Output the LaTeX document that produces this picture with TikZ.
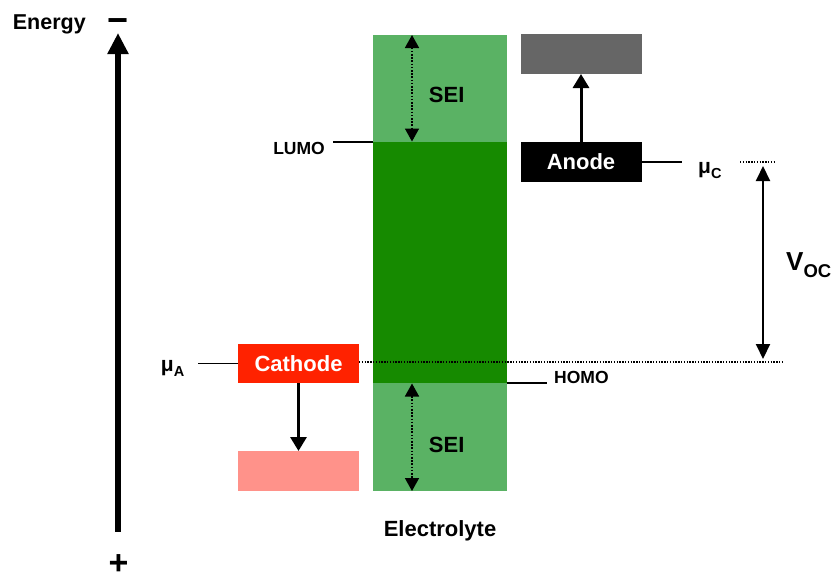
\documentclass[tikz,border=0pt]{standalone}
\usepackage{fontspec}
\setmainfont{Liberation Sans}
\usetikzlibrary{arrows.meta, positioning}
\definecolor{seigreen}{HTML}{5AB264}
\definecolor{elgreen}{HTML}{168A00}
\definecolor{cathred}{HTML}{FF2200}
\definecolor{cathpink}{HTML}{FF928A}
\definecolor{anodegray}{HTML}{666666}

\tikzset{
  band/.style={inner sep=0pt, outer sep=0pt, minimum width=134pt},
  elbox/.style={inner sep=0pt, outer sep=0pt, minimum width=121pt, minimum height=40pt,
    text=white, font=\fontsize{22}{22}\selectfont\bfseries},
  lbl/.style={inner sep=0pt, font=\fontsize{22}{22}\selectfont\bfseries},
  smalllbl/.style={inner sep=0pt, font=\fontsize{17.5}{17.5}\selectfont\bfseries},
  shiftarrow/.style={-{Triangle[width=16pt, length=14pt]}, line width=3pt},
  seiarrow/.style={{Triangle[width=14pt, length=13pt]}-{Triangle[width=14pt, length=13pt]},
    line width=1.6pt, dash pattern=on 1.6pt off 1.6pt},
  lvlline/.style={line width=1.3pt},
  lvldot/.style={line width=1.4pt, dash pattern=on 1.4pt off 1.4pt}
}

\begin{document}
\begin{tikzpicture}[x=1pt, y=-1pt]
\useasboundingbox (0,0) rectangle (835,576);

% electrolyte window
\node[band, fill=seigreen, minimum height=107pt] (seitop) at (440,88.5) {};
\node[band, fill=elgreen, minimum height=241pt] (elec) at (440,262.5) {};
\node[band, fill=seigreen, minimum height=108pt] (seibot) at (440,437) {};
\node[lbl, anchor=base] (seitoplbl) at (446.7,102.7) {SEI};
\node[lbl, anchor=base] (seibotlbl) at (446.7,452.3) {SEI};
\node[lbl, anchor=base] (electrolyte) at (440,536) {Electrolyte};

\coordinate (seitopA) at (412,35);
\coordinate (seitopB) at (412,141.5);
\coordinate (seibotA) at (412,383.5);
\coordinate (seibotB) at (412,491);
\draw[seiarrow] (seitopA) -- (seitopB);
\draw[seiarrow] (seibotA) -- (seibotB);

% LUMO / HOMO
\node[smalllbl, anchor=base east] (lumo) at (325,154.3) {LUMO};
\coordinate (lumoend) at (333,142);
\draw[lvlline] (lumoend) -- (elec.north west);
\node[smalllbl, anchor=base west] (homo) at (554,383.3) {HOMO};
\coordinate (homoend) at (547,383);
\draw[lvlline] (elec.south east) -- (homoend);

% anode
\node[elbox, fill=anodegray] (anodeup) at (581,54) {};
\node[elbox, fill=black] (anode) at (581,162) {Anode};
\draw[shiftarrow] (anode.north) -- (anodeup.south);
\coordinate (muCend) at (682,162);
\draw[lvlline] (anode.east) -- (muCend);
\node[inner sep=0pt, anchor=base west, font=\bfseries] (muC) at (698,173)
  {\fontsize{21}{21}\selectfont μ\raisebox{-5.5pt}{\fontsize{14.5}{14.5}\selectfont C}};

% cathode
\node[elbox, fill=cathred, minimum height=39pt] (cathode) at (298.5,363.5) {Cathode};
\node[elbox, fill=cathpink] (cathdown) at (298.5,471) {};
\draw[shiftarrow] (cathode.south) -- (cathdown.north);
\coordinate (muAend) at (198,363.5);
\draw[lvlline] (muAend) -- (cathode.west);
\node[inner sep=0pt, anchor=base west, font=\bfseries] (muA) at (160.7,371)
  {\fontsize{21}{21}\selectfont μ\raisebox{-5.5pt}{\fontsize{14.5}{14.5}\selectfont A}};

% open-circuit voltage
\coordinate (voctop) at (740,162);
\coordinate (voctopend) at (774,162);
\coordinate (vocbotend) at (783,362);
\draw[lvldot] (voctop) -- (voctopend);
\draw[lvldot] (cathode.east |- vocbotend) -- (vocbotend);
\coordinate (vocA) at (763,166);
\coordinate (vocB) at (763,359);
\draw[{Triangle[width=14pt, length=15pt]}-{Triangle[width=14pt, length=15pt]}, line width=2pt]
  (vocA) -- (vocB);
\node[inner sep=0pt, anchor=base west, font=\bfseries] (voc) at (786,270)
  {\fontsize{26}{26}\selectfont V\raisebox{-7pt}{\fontsize{18.5}{18.5}\selectfont OC}};

% energy axis
\coordinate (ebot) at (118,531.7);
\coordinate (etop) at (118,33);
\draw[-{Triangle[width=20pt, length=21pt]}, line width=6.5pt] (ebot) -- (etop);
\node[inner sep=0pt, anchor=base west, font=\fontsize{21.5}{21.5}\selectfont\bfseries] (energy) at (12.7,29.3) {Energy};
\node[inner sep=0pt, anchor=base, font=\fontsize{36}{36}\selectfont\bfseries] (minus) at (118,32) {−};
\node[inner sep=0pt, text depth=0pt, anchor=base, font=\fontsize{34}{34}\selectfont\bfseries] (plus) at (118.5,574) {+};
\end{tikzpicture}
\end{document}
